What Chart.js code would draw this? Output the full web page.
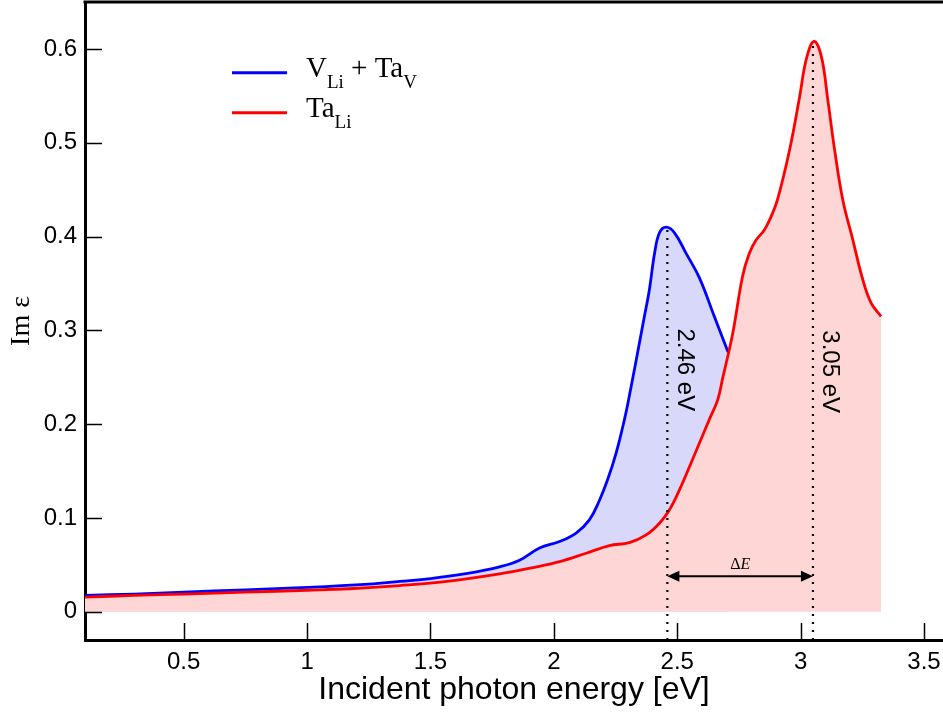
<!DOCTYPE html>
<html lang="en">
<head>
<meta charset="UTF-8">
<title>Im ε vs incident photon energy</title>
<script src="https://cdn.jsdelivr.net/npm/chart.js"></script>
<style>
  body { margin: 0; background: #fff; }
</style>
</head>
<body>
<canvas id="epsChart" width="943" height="713"></canvas>
<script>
// V_Li + Ta_V : photon energy (eV) and Im eps
const energyVTa = [0.10, 0.30, 0.50, 0.75, 1.00, 1.25, 1.375, 1.50, 1.65, 1.78, 1.861, 1.942, 2.023, 2.09, 2.144,
                   2.185, 2.218, 2.252, 2.279, 2.30, 2.367, 2.387, 2.408, 2.428, 2.455, 2.489, 2.536, 2.59, 2.65, 2.706];
const imEpsVTa  = [0.0175, 0.019, 0.021, 0.0235, 0.026, 0.0295, 0.0324, 0.0355, 0.041, 0.048, 0.055, 0.068, 0.075, 0.084, 0.098,
                   0.119, 0.141, 0.169, 0.197, 0.222, 0.315, 0.343, 0.382, 0.404, 0.410, 0.404, 0.382, 0.356, 0.315, 0.277];

// Ta_Li
const energyTa = [0.10, 0.30, 0.50, 0.75, 1.00, 1.17, 1.375, 1.55, 1.78, 1.93, 2.023, 2.131, 2.225, 2.306, 2.374, 2.428,
                  2.468, 2.509, 2.55, 2.59, 2.63, 2.664, 2.685, 2.725, 2.765, 2.792, 2.819, 2.853, 2.88, 2.906, 2.955,
                  2.996, 3.023, 3.054, 3.084, 3.11, 3.138, 3.171, 3.212, 3.252, 3.286, 3.326];
const imEpsTa  = [0.0157, 0.0175, 0.019, 0.021, 0.023, 0.0246, 0.028, 0.032, 0.0406, 0.048, 0.0535, 0.0625, 0.0706, 0.0738, 0.082, 0.0945,
                  0.1086, 0.130, 0.155, 0.180, 0.205, 0.226, 0.250, 0.297, 0.358, 0.382, 0.396, 0.407, 0.421, 0.439, 0.492,
                  0.549, 0.589, 0.608, 0.592, 0.546, 0.492, 0.439, 0.396, 0.354, 0.329, 0.315];

const xTicks = [0.5, 1, 1.5, 2, 2.5, 3, 3.5];
const xTickLabels = ['0.5', '1', '1.5', '2', '2.5', '3', '3.5'];
const yTicks = [0, 0.1, 0.2, 0.3, 0.4, 0.5, 0.6];
const yTickLabels = ['0', '0.1', '0.2', '0.3', '0.4', '0.5', '0.6'];

// peak markers
const peakEnergies = [2.46, 3.05];
const peakHeights = [0.41, 0.608];
const peakLabels = ['2.46 eV', '3.05 eV'];
const peakLabelY = [0.258, 0.256];
const deltaArrowY = 0.038;

const X_MIN = 0.1, X_MAX = 3.577, Y_MIN = -0.03, Y_MAX = 0.65;

const BLUE = '#0000ff', RED = '#ff0000';
const BLUE_FILL = 'rgb(216, 216, 250)', RED_FILL = 'rgb(255, 214, 214)';

const toPoints = (xs, ys) => xs.map((x, i) => ({ x: x, y: ys[i] }));

const seriesLegend = [
    { color: BLUE, parts: [['V', 0], ['Li', 1], [' + Ta', 0], ['V', 1]] },
    { color: RED,  parts: [['Ta', 0], ['Li', 1]] }
];

Chart.defaults.font.family = "'Liberation Sans', Arial, sans-serif";
Chart.defaults.color = '#000';

const peakLines = peakEnergies.map((e, i) => ({
    data: [{ x: e, y: Y_MIN }, { x: e, y: peakHeights[i] }],
    borderColor: '#000',
    borderWidth: 2.2,
    borderDash: [2, 6],
    pointRadius: 0,
    tension: 0,
    fill: false,
    order: 0
}));

// no label overhang padding, the frame fills the canvas edge to edge
const noPad = s => { s.paddingTop = 0; s.paddingBottom = 0; s.paddingLeft = 0; s.paddingRight = 0; };

const extras = {
    id: 'extras',
    afterDraw(chart) {
        const ctx = chart.ctx;
        const area = chart.chartArea;
        const xs = chart.scales.x, ys = chart.scales.y;
        ctx.save();

        // top frame line
        ctx.strokeStyle = '#000';
        ctx.lineWidth = 3;
        ctx.beginPath();
        ctx.moveTo(area.left - 1.5, area.top);
        ctx.lineTo(area.right, area.top);
        ctx.stroke();

        // inward ticks
        ctx.lineWidth = 1.5;
        ctx.beginPath();
        xs.ticks.forEach(t => {
            const px = Math.round(xs.getPixelForValue(t.value)) + 0.5;
            ctx.moveTo(px, area.bottom);
            ctx.lineTo(px, area.bottom - 17);
        });
        ys.ticks.forEach(t => {
            const py = Math.round(ys.getPixelForValue(t.value)) + 0.5;
            ctx.moveTo(area.left, py);
            ctx.lineTo(area.left + 17, py);
        });
        ctx.stroke();

        // double arrow between the two peaks
        const ax1 = xs.getPixelForValue(peakEnergies[0]);
        const ax2 = xs.getPixelForValue(peakEnergies[1]);
        const ay = ys.getPixelForValue(deltaArrowY);
        ctx.lineWidth = 2;
        ctx.beginPath();
        ctx.moveTo(ax1 + 8, ay);
        ctx.lineTo(ax2 - 8, ay);
        ctx.stroke();
        ctx.fillStyle = '#000';
        ctx.beginPath();
        ctx.moveTo(ax1, ay); ctx.lineTo(ax1 + 12, ay - 5.5); ctx.lineTo(ax1 + 12, ay + 5.5); ctx.closePath();
        ctx.moveTo(ax2, ay); ctx.lineTo(ax2 - 12, ay - 5.5); ctx.lineTo(ax2 - 12, ay + 5.5); ctx.closePath();
        ctx.fill();

        // ΔE label
        const mid = (ax1 + ax2) / 2;
        ctx.textBaseline = 'alphabetic';
        ctx.font = '16px "Liberation Serif"';
        const dW = ctx.measureText('Δ').width;
        ctx.font = 'italic 16px "Liberation Serif"';
        const eW = ctx.measureText('E').width;
        const lx = mid - (dW + eW) / 2;
        ctx.font = '16px "Liberation Serif"';
        ctx.fillText('Δ', lx, ay - 7);
        ctx.font = 'italic 16px "Liberation Serif"';
        ctx.fillText('E', lx + dW, ay - 7);

        // rotated peak labels
        ctx.font = "24px 'Liberation Sans'";
        ctx.textAlign = 'center';
        ctx.textBaseline = 'middle';
        peakEnergies.forEach((e, i) => {
            ctx.save();
            ctx.translate(xs.getPixelForValue(e) + 17, ys.getPixelForValue(peakLabelY[i]));
            ctx.rotate(Math.PI / 2);
            ctx.fillText(peakLabels[i], 0, 0);
            ctx.restore();
        });

        // legend
        ctx.textAlign = 'left';
        ctx.textBaseline = 'alphabetic';
        seriesLegend.forEach((s, i) => {
            const ly = 72.7 + i * 40;
            ctx.strokeStyle = s.color;
            ctx.lineWidth = 3;
            ctx.beginPath();
            ctx.moveTo(232, ly);
            ctx.lineTo(287, ly);
            ctx.stroke();
            let tx = 306;
            const base = ly + 4.5;
            s.parts.forEach(([txt, sub]) => {
                ctx.font = sub ? '19px "Liberation Serif"' : '29px "Liberation Serif"';
                ctx.fillText(txt, tx, sub ? base + 11 : base);
                tx += ctx.measureText(txt).width;
            });
        });

        ctx.restore();
    }
};

new Chart(document.getElementById('epsChart'), {
    type: 'line',
    data: {
        datasets: [
            {
                label: 'V_Li + Ta_V',
                data: toPoints(energyVTa, imEpsVTa),
                borderColor: BLUE,
                backgroundColor: BLUE_FILL,
                borderWidth: 2.8,
                pointRadius: 0,
                tension: 0.4,
                fill: 'origin',
                order: 2
            },
            {
                label: 'Ta_Li',
                data: toPoints(energyTa, imEpsTa),
                borderColor: RED,
                backgroundColor: RED_FILL,
                borderWidth: 2.8,
                pointRadius: 0,
                tension: 0.4,
                fill: 'origin',
                order: 1
            },
            ...peakLines
        ]
    },
    options: {
        responsive: false,
        animation: false,
        layout: { padding: { top: 2, right: 0, left: 0, bottom: 0 } },
        plugins: { legend: { display: false }, tooltip: { enabled: false } },
        scales: {
            x: {
                type: 'linear',
                min: X_MIN,
                max: X_MAX,
                afterBuildTicks: s => { s.ticks = xTicks.map(v => ({ value: v })); },
                afterFit: s => { s.height = 73; noPad(s); },
                grid: { display: false, drawTicks: false },
                border: { display: true, color: '#000', width: 3 },
                ticks: {
                    autoSkip: false, maxRotation: 0, padding: 8,
                    font: { size: 24 },
                    callback: (v, i) => xTickLabels[i]
                },
                title: {
                    display: true,
                    text: 'Incident photon energy [eV]',
                    font: { size: 32 },
                    padding: { top: 0, bottom: 4 }
                }
            },
            y: {
                min: Y_MIN,
                max: Y_MAX,
                afterBuildTicks: s => { s.ticks = yTicks.map(v => ({ value: v })); },
                afterFit: s => { s.width = 85; noPad(s); },
                grid: { display: false, drawTicks: false },
                border: { display: true, color: '#000', width: 3 },
                ticks: {
                    autoSkip: false, padding: 8,
                    font: { size: 24 },
                    callback: (v, i) => yTickLabels[i]
                },
                title: {
                    display: true,
                    text: 'Im ε',
                    font: { size: 28, family: "'Liberation Serif', serif" },
                    padding: { top: 5, bottom: 0 }
                }
            }
        }
    },
    plugins: [extras]
});
</script>
</body>
</html>
